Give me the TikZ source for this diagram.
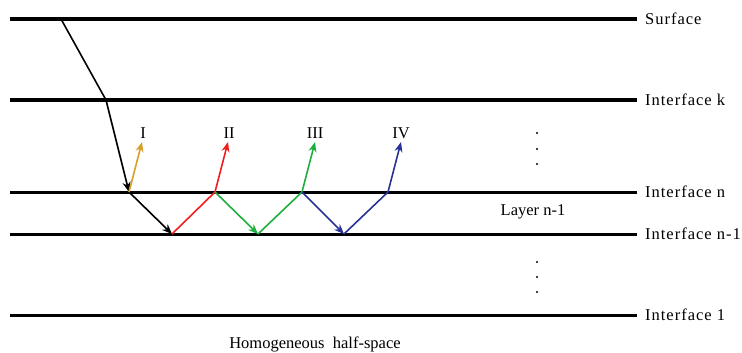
\documentclass[tikz,border=0pt]{standalone}
\usepackage{fontspec}
\setmainfont{Liberation Serif}
\newfontfamily\spacedfont[LetterSpace=6]{Liberation Serif}
\usetikzlibrary{arrows.meta}
\definecolor{cgold}{RGB}{214,160,40}
\definecolor{cred}{RGB}{240,30,30}
\definecolor{cgreen}{RGB}{30,175,60}
\definecolor{cblue}{RGB}{40,50,150}
\begin{document}
\begin{tikzpicture}[x=1pt,y=-1pt,
  lbl/.style={font=\fontsize{16.5}{18}\selectfont, inner sep=0pt},
  rlbl/.style={font=\spacedfont\fontsize{16.5}{18}\selectfont, inner sep=0pt, anchor=west},
  iface/.style={line width=3pt},
  ray/.style={line width=1.6pt},
  tip/.style={-{Stealth[length=10pt,width=8pt]}},
  dot/.style={circle, fill=black, inner sep=0pt, minimum size=2.4pt}]
\useasboundingbox (0,0) rectangle (742,353);
% interface labels
\node[rlbl] (ls) at (645,19) {Surface};
\node[rlbl] (lk) at (645,100) {Interface k};
\node[rlbl] (ln) at (645,192) {Interface n};
\node[rlbl] (ln1) at (645,234) {Interface n-1};
\node[rlbl] (l1) at (645,315) {Interface 1};
\coordinate (s0) at (10,19);
\coordinate (k0) at (10,100);
\coordinate (n0) at (10,192);
\coordinate (m0) at (10,234);
\coordinate (o0) at (10,315);
\coordinate (s1) at (637,19);
\coordinate (k1) at (637,100);
\coordinate (n1) at (637,192);
\coordinate (m1) at (637,234);
\coordinate (o1) at (637,315);
\draw[line width=3.6pt] (s0) -- (s1);
\draw[iface] (k0) -- (k1);
\draw[iface] (n0) -- (n1);
\draw[iface] (m0) -- (m1);
\draw[iface] (o0) -- (o1);
% ray points
\coordinate (a) at (61,19);
\coordinate (b) at (106,100);
\coordinate (c) at (129,192);
\coordinate (d) at (172,234);
\coordinate (e) at (215,192);
\coordinate (f) at (258,234);
\coordinate (g) at (302,192);
\coordinate (h) at (344,234);
\coordinate (i) at (388,192);
\coordinate (t1) at (142,142);
\coordinate (t2) at (228,142);
\coordinate (t3) at (315,142);
\coordinate (t4) at (401,142);
% labels
\node[lbl] (L1) at (143,133) {I};
\node[lbl] (L2) at (229,133) {II};
\node[lbl] (L3) at (315,133) {III};
\node[lbl] (L4) at (401,133) {IV};
% rays
\draw[ray, black] (a) -- (b);
\draw[ray, black, tip] (b) -- (c);
\draw[ray, black, tip] (c) -- (d);
\draw[ray, cgold, tip] (c) -- (t1);
\draw[ray, cred] (d) -- (e);
\draw[ray, cred, tip] (e) -- (t2);
\draw[ray, cgreen, tip] (e) -- (f);
\draw[ray, cgreen] (f) -- (g);
\draw[ray, cgreen, tip] (g) -- (t3);
\draw[ray, cblue, tip] (g) -- (h);
\draw[ray, cblue] (h) -- (i);
\draw[ray, cblue, tip] (i) -- (t4);
% dots
\node[dot] (d1) at (537,133) {};
\node[dot] (d2) at (537,149) {};
\node[dot] (d3) at (537,164) {};
\node[dot] (d4) at (537,262) {};
\node[dot] (d5) at (537,277) {};
\node[dot] (d6) at (537,292) {};
\node[lbl] (layer) at (533,212) {Layer n-1};
\node[lbl] (half) at (315,344) {Homogeneous\ \ half-space};
\end{tikzpicture}
\end{document}
